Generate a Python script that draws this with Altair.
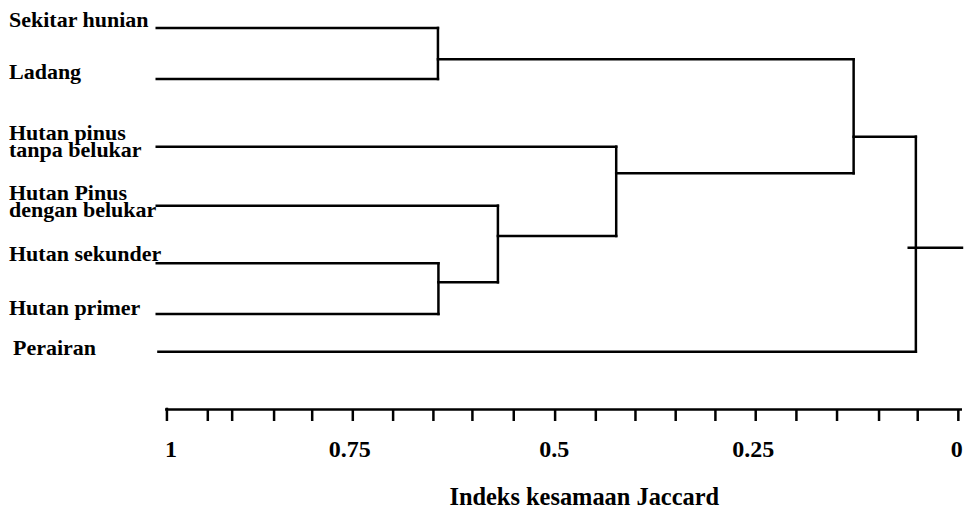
import altair as alt
import pandas as pd

# ---------------- data ----------------
leaf_names = [["Sekitar hunian"], ["Ladang"], ["Hutan pinus", "tanpa belukar"],
              ["Hutan Pinus", "dengan belukar"], ["Hutan sekunder"], ["Hutan primer"],
              ["Perairan"]]
leaf_ids = ["L0", "L1", "L2", "L3", "L4", "L5", "L6"]
leaf_row = [20, 71, 138.7, 197.7, 255.3, 306, 343.7]          # vertical position of leaf
leaf_start = [0.9906, 0.9906, 0.9906, 0.9906, 0.9906, 0.9906, 0.9885]

merge_ids = ["A", "B", "C", "D", "E", "F"]
merge_left = ["L0", "L4", "L3", "L2", "A", "E"]
merge_right = ["L1", "L5", "B", "C", "D", "L6"]
merge_sim = [0.6431, 0.6425, 0.5690, 0.4228, 0.1294, 0.0525]  # Jaccard similarity of merge
merge_row = [51.3, 274.3, 228, 165.3, 128.7, 239.7]

root_start = 0.0613
root_end = -0.0045

tick_values = [0.978, 0.9275, 0.8974, 0.8456, 0.7985, 0.7483, 0.6985, 0.6487, 0.6005,
               0.5494, 0.4983, 0.4480, 0.3990, 0.3493, 0.3002, 0.2504, 0.2001, 0.1499,
               0.0980, 0.0502, 0.0]
tick_label_text = ["1", "0.75", "0.5", "0.25", "0"]
tick_label_pos = [0.973, 0.752, 0.4995, 0.2533, 0.002]
axis_title = "Indeks kesamaan Jaccard"

# ---------------- layout ----------------
W, H = 956, 503
X_DOMAIN = [-0.006995, 1.17441]
Y_DOMAIN = [0, H]
LABEL_X = 1.1732
LABEL_X_PERAIRAN = 1.1683
label_row = [19.3, 71.3, 131.5, 191.5, 252.7, 307, 347]
AXIS_ROW = 401.5
TICK_END = 413
FIRST_TICK_TOP = 399.7
AXIS_START = 0.9803
TICK_LABEL_ROW = 448.7
TITLE_ROW = 497
TITLE_POS = 0.4623
FONT = "Liberation Serif"
SW = 2.5

xs = alt.Scale(domain=X_DOMAIN, reverse=True, nice=False, zero=False)
ys = alt.Scale(domain=Y_DOMAIN, reverse=True, nice=False, zero=False)

# ---------------- build dendrogram segments ----------------
pos = {}
for i, lid in enumerate(leaf_ids):
    pos[lid] = (leaf_start[i], leaf_row[i])
for i, mid in enumerate(merge_ids):
    pos[mid] = (merge_sim[i], merge_row[i])

segs = []
for i, mid in enumerate(merge_ids):
    s = merge_sim[i]
    for child in (merge_left[i], merge_right[i]):
        cx, cy = pos[child]
        segs.append(dict(x=cx, x2=s, y=cy, y2=cy))
    segs.append(dict(x=s, x2=s, y=pos[merge_left[i]][1], y2=pos[merge_right[i]][1]))
root = merge_ids[-1]
segs.append(dict(x=root_start, x2=root_end, y=pos[root][1], y2=pos[root][1]))
seg_df = pd.DataFrame(segs)

tree = alt.Chart(seg_df).mark_rule(color="black", strokeWidth=SW, strokeCap="square").encode(
    x=alt.X("x:Q", scale=xs, axis=None),
    x2="x2:Q",
    y=alt.Y("y:Q", scale=ys, axis=None),
    y2="y2:Q",
)

lab_df = pd.DataFrame({
    "name": leaf_names,
    "lx": [LABEL_X] * 6 + [LABEL_X_PERAIRAN],
    "ly": label_row,
})
labels = alt.Chart(lab_df).mark_text(
    align="left", baseline="alphabetic", font=FONT, fontWeight="bold",
    fontSize=22, lineHeight=17, color="black"
).encode(
    x=alt.X("lx:Q", scale=xs, axis=None),
    y=alt.Y("ly:Q", scale=ys, axis=None),
    text="name",
)

# ---------------- axis ----------------
axis_df = pd.DataFrame([dict(x=AXIS_START, x2=root_end, y=AXIS_ROW, y2=AXIS_ROW)])
axis_line = alt.Chart(axis_df).mark_rule(color="black", strokeWidth=SW).encode(
    x=alt.X("x:Q", scale=xs, axis=None), x2="x2:Q",
    y=alt.Y("y:Q", scale=ys, axis=None), y2="y2:Q",
)

tick_df = pd.DataFrame({
    "v": tick_values,
    "top": [FIRST_TICK_TOP] + [AXIS_ROW] * (len(tick_values) - 1),
    "bot": [TICK_END] * len(tick_values),
})
ticks = alt.Chart(tick_df).mark_rule(color="black", strokeWidth=SW).encode(
    x=alt.X("v:Q", scale=xs, axis=None),
    y=alt.Y("top:Q", scale=ys, axis=None), y2="bot:Q",
)

tl_df = pd.DataFrame({"t": tick_label_text, "v": tick_label_pos, "r": [TICK_LABEL_ROW] * 5})
tick_labels = alt.Chart(tl_df).mark_text(
    align="center", baseline="alphabetic", font=FONT, fontWeight="bold",
    fontSize=24, color="black"
).encode(
    x=alt.X("v:Q", scale=xs, axis=None),
    y=alt.Y("r:Q", scale=ys, axis=None),
    text="t:N",
)

title_df = pd.DataFrame({"t": [axis_title], "v": [TITLE_POS], "r": [TITLE_ROW]})
title = alt.Chart(title_df).mark_text(
    align="center", baseline="alphabetic", font=FONT, fontWeight="bold",
    fontSize=24.4, color="black"
).encode(
    x=alt.X("v:Q", scale=xs, axis=None),
    y=alt.Y("r:Q", scale=ys, axis=None),
    text="t:N",
)

chart = alt.layer(tree, labels, axis_line, ticks, tick_labels, title).properties(
    width=W, height=H, padding=0, autosize=alt.AutoSizeParams(type="none"),
    background="white",
).configure_view(stroke=None)

chart.save("out.html", embed_options={"renderer": "svg", "actions": False})
